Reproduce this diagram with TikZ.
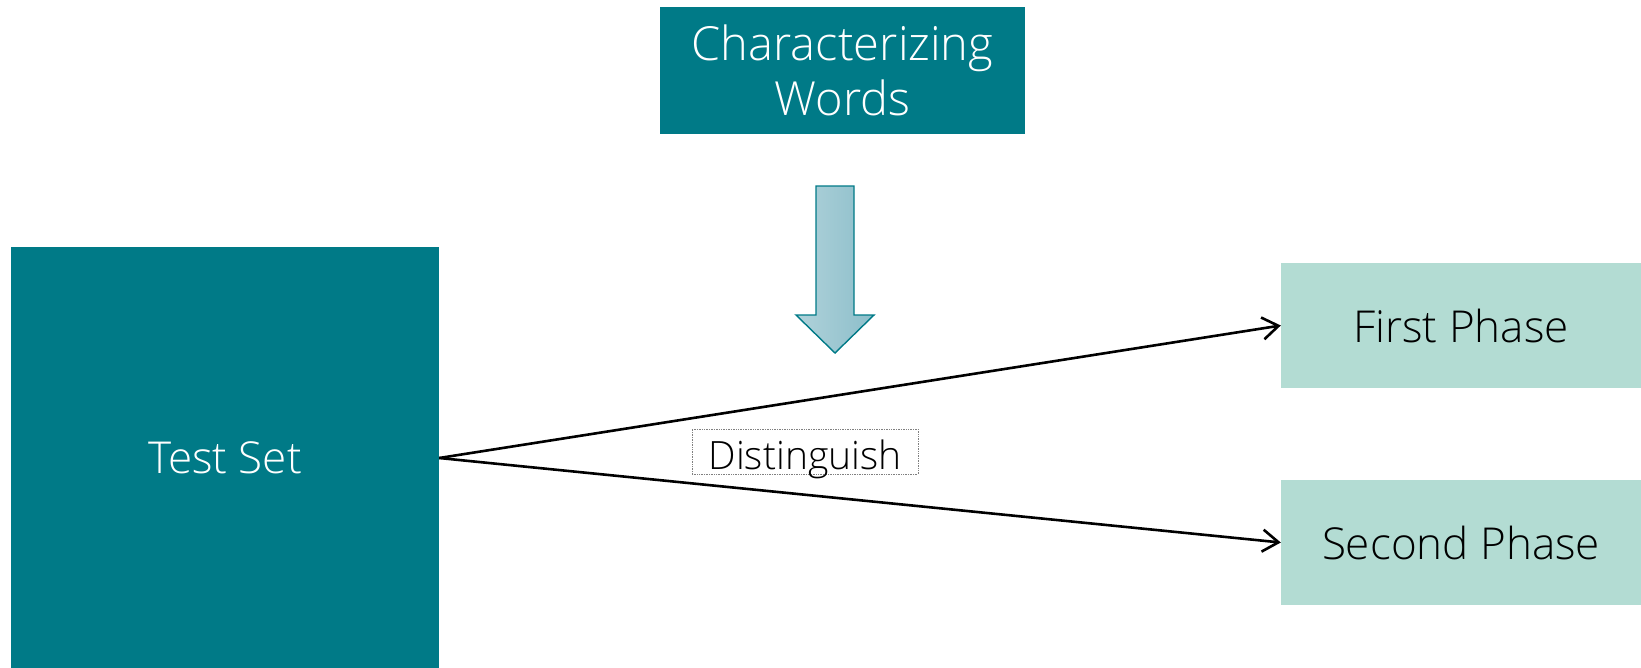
\documentclass[tikz,border=0pt]{standalone}
\usepackage{fontspec}
\setmainfont{Open Sans Light}
\usetikzlibrary{arrows.meta}
\definecolor{teal}{RGB}{0,122,135}
\definecolor{mint}{RGB}{179,220,211}
\definecolor{arrowlight}{RGB}{176,210,218}
\definecolor{arrowdark}{RGB}{140,190,202}
\tikzset{
  darkbox/.style={fill=teal, draw=none, text=white, inner sep=0pt, align=center},
  phasebox/.style={fill=mint, draw=none, text=black, inner sep=0pt,
    minimum width=360pt, minimum height=125pt,
    font=\fontsize{44}{52}\selectfont},
  link/.style={line width=2.6pt,
    -{Straight Barb[length=16pt,width=22pt,line width=2.6pt]}},
  tag/.style={draw=gray, densely dotted, line width=0.7pt, inner sep=0pt,
    text height=40pt, text depth=5pt,
    minimum width=226pt, minimum height=45pt, font=\fontsize{39}{44}\selectfont}
}
\begin{document}
\begin{tikzpicture}[x=1pt, y=-1pt]
  \useasboundingbox (0,0) rectangle (1641,667);

  % top box
  \node[darkbox, minimum width=365pt, minimum height=127pt,
        font=\fontsize{47}{55}\selectfont] (cw) at (842.5,70.5)
        {Characterizing\\Words};

  % block arrow pointing down
  \path[left color=arrowlight, right color=arrowdark, draw=teal, line width=1.4pt]
    (816,186) -- (854,186) -- (854,315) -- (874,315) -- (835,353)
    -- (796,315) -- (816,315) -- cycle;

  % test set block (runs off the bottom edge)
  \node[darkbox, minimum width=428pt, minimum height=422pt,
        font=\fontsize{44}{52}\selectfont] (ts) at (225,458) {Test Set};

  % the two phases
  \node[phasebox] (fp) at (1461,325.5) {First Phase};
  \node[phasebox] (sp) at (1461,542.5) {Second Phase};

  % connectors
  \draw[link] (ts.east) -- (fp.west);
  \draw[link] (ts.east) -- (sp.west);

  % label
  \node[tag] (dg) at (805,451.5) {Distinguish};
\end{tikzpicture}
\end{document}
